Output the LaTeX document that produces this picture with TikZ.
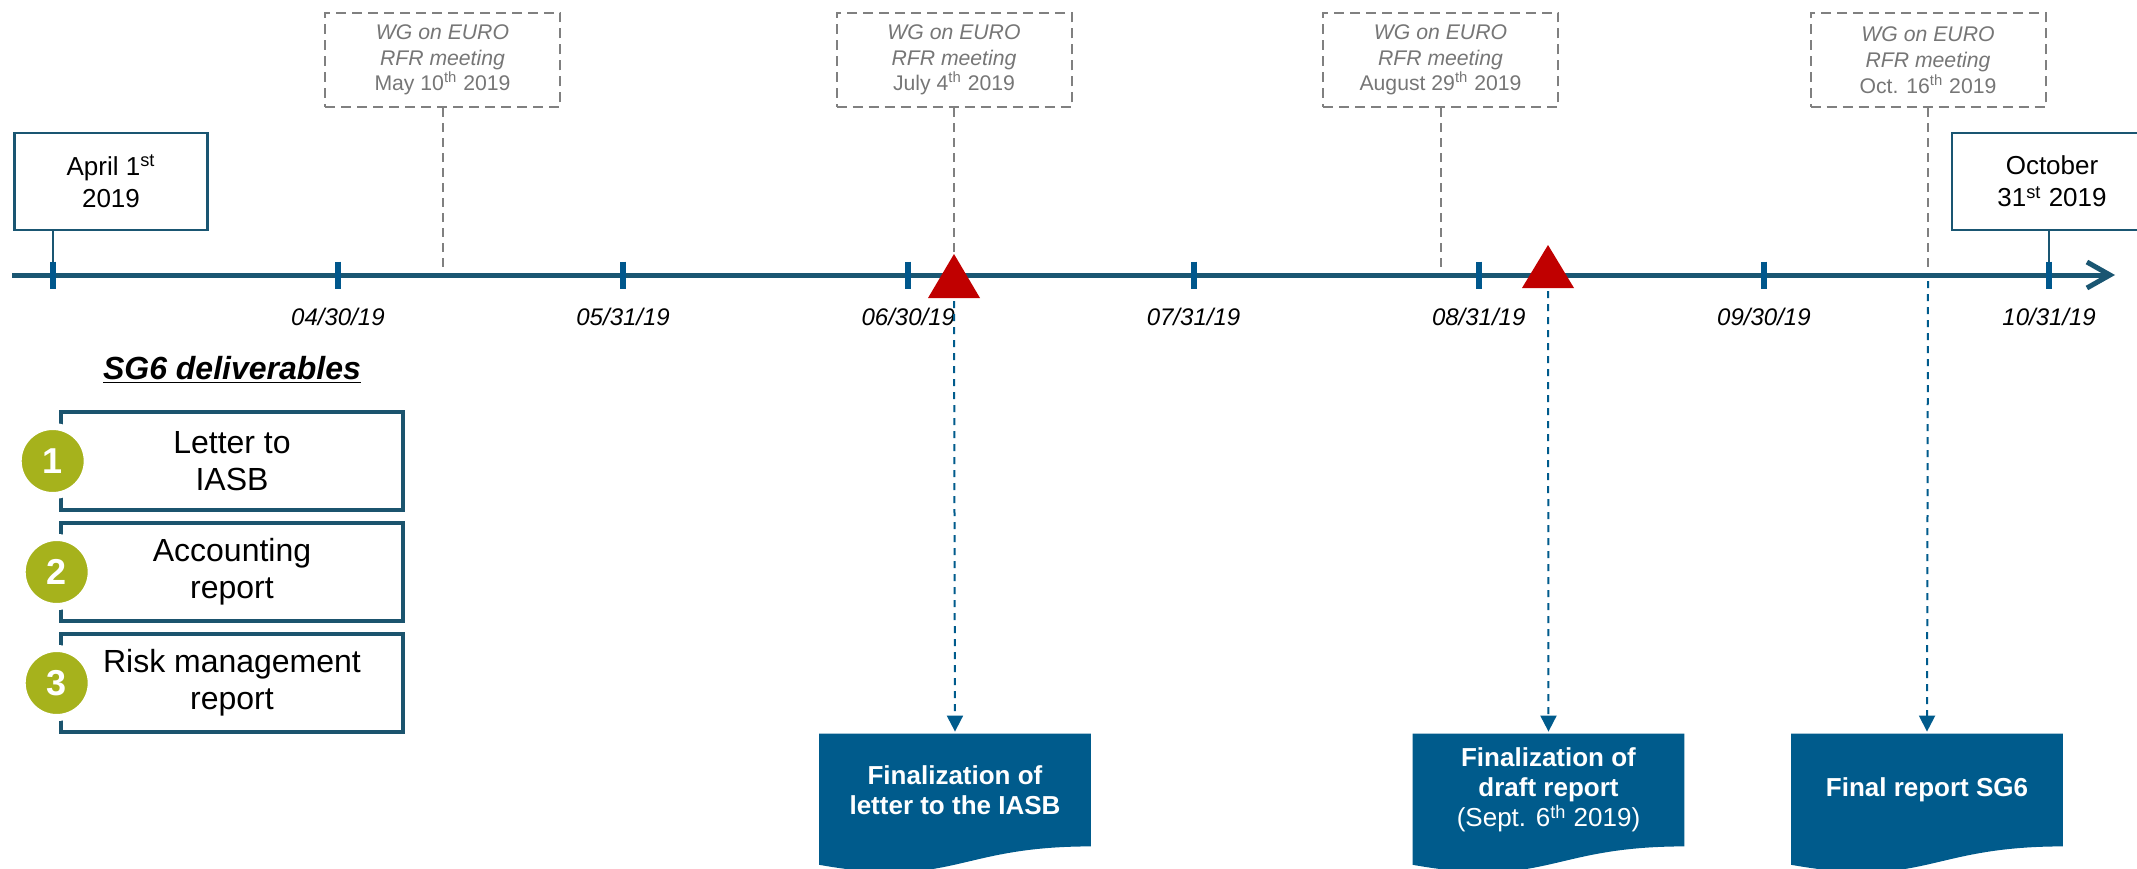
\documentclass[tikz,border=0pt]{standalone}
\usepackage{fontspec}
\setmainfont{Liberation Sans}
\usetikzlibrary{arrows.meta,calc,backgrounds}
\definecolor{tlcol}{RGB}{26,86,114}
\definecolor{tickcol}{RGB}{0,87,140}
\definecolor{boxcol}{RGB}{27,84,110}
\definecolor{docblue}{RGB}{0,91,140}
\definecolor{numgreen}{RGB}{166,178,28}
\definecolor{tri}{RGB}{192,0,0}
\definecolor{dashgray}{RGB}{128,128,128}
\definecolor{wgtext}{RGB}{118,118,118}
\newcommand\docpath[1]{\fill[docblue] (#1.north west) -- (#1.north east) -- (#1.south east) .. controls (#1.south) and ($(#1.south)+(0,42.5)$) .. ($(#1.south west)+(0,18.4)$) -- cycle;}
\tikzset{
  wgbox/.style={draw=dashgray, line width=1pt, dash pattern=on 5pt off 3pt, minimum width=117.5pt, minimum height=47.3pt, inner sep=0pt, align=center, text=wgtext, font=\fontsize{10.6}{12.85}\selectfont},
  grayline/.style={draw=dashgray, line width=1pt, dash pattern=on 4.5pt off 3pt},
  timeline/.style={draw=tlcol, line width=2.5pt, -{Straight Barb[length=11.5pt,width=13pt]}},
  tickmark/.style={draw=tickcol, line width=3pt},
  datelab/.style={inner sep=0pt, font=\itshape\fontsize{12}{14}\selectfont},
  datebox/.style={draw=tlcol, line width=1.2pt, fill=white, minimum width=96.5pt, minimum height=48.5pt, inner sep=0pt, align=center, font=\fontsize{13}{16}\selectfont},
  conn/.style={draw=tlcol, line width=1pt},
  bluedash/.style={draw=docblue, line width=1pt, dash pattern=on 3.5pt off 3pt, -{Triangle[length=8pt,width=8pt]}, shorten >=1pt},
  docnode/.style={minimum width=135.5pt, minimum height=56pt, inner sep=0pt, align=center, text=white, font=\fontsize{13}{15}\selectfont},
  delbox/.style={draw=boxcol, line width=2pt, minimum width=170.8pt, minimum height=49.2pt, inner sep=0pt, align=center, font=\fontsize{16}{18.3}\selectfont},
  numcirc/.style={circle, fill=numgreen, draw=white, line width=3.5pt, minimum size=34.5pt, inner sep=0pt, text=white, font=\bfseries\fontsize{18}{18}\selectfont}
}
\begin{document}
\begin{tikzpicture}[x=0.5pt,y=-0.5pt]
\useasboundingbox (0,0) rectangle (2137,868);
\foreach \k in {0,...,7}{\coordinate (d\k) at ({52.7+285.2*\k},275);}
% WG meeting boxes
\node[wgbox] (wg1) at (442.5,60) {\textit{WG on EURO}\\\textit{RFR meeting}\\May 10\textsuperscript{th} 2019};
\node[wgbox] (wg2) at (954,60) {\textit{WG on EURO}\\\textit{RFR meeting}\\July 4\textsuperscript{th} 2019};
\node[wgbox] (wg3) at (1440.5,60) {\textit{WG on EURO}\\\textit{RFR meeting}\\August 29\textsuperscript{th} 2019};
\node[wgbox] (wg4) at (1928,60) {\textit{WG on EURO}\\\textit{RFR meeting}\\Oct. 16\textsuperscript{th} 2019};
\coordinate (g1) at (442.5,267);
\coordinate (g3) at (1440.5,267);
\coordinate (g4) at (1928,272);
\coordinate (t1) at (954,254);
\coordinate (t2) at (1548,245);
\draw[grayline] (wg1.south) -- (g1);
\draw[grayline] (wg2.south) -- (t1);
\draw[grayline] (wg3.south) -- (g3);
\draw[grayline] (wg4.south) -- (g4);
% date boxes
\node[datebox] (apr) at (111,181.5) {April 1\textsuperscript{st}\\2019};
\node[datebox, minimum width=100pt] (oct) at (2052,181.5) {October\\31\textsuperscript{st} 2019};
\draw[conn] (apr.south -| d0) -- (d0);
\draw[conn] (oct.south -| d7) -- (d7);
% timeline
\coordinate (tls) at (12,275);
\coordinate (tle) at (2115,275);
\draw[timeline] (tls) -- (tle);
\foreach \k in {0,...,7}{\draw[tickmark] ($(d\k)+(0,-13.5)$) -- ($(d\k)+(0,13.5)$);}
\node[datelab] (l1) at ($(d1)+(0,41.5)$) {04/30/19};
\node[datelab] (l2) at ($(d2)+(0,41.5)$) {05/31/19};
\node[datelab] (l3) at ($(d3)+(0,41.5)$) {06/30/19};
\node[datelab] (l4) at ($(d4)+(0,41.5)$) {07/31/19};
\node[datelab] (l5) at ($(d5)+(0,41.5)$) {08/31/19};
\node[datelab] (l6) at ($(d6)+(0,41.5)$) {09/30/19};
\node[datelab] (l7) at ($(d7)+(0,41.5)$) {10/31/19};
% triangles
\fill[tri] (t1) -- ++(26,44) -- ++(-52,0) -- cycle;
\fill[tri] (t2) -- ++(26,43) -- ++(-52,0) -- cycle;
\coordinate (t1b) at (954,301);
\coordinate (t2b) at (1548,291);
\coordinate (a3) at (1928,281);
% deliverable documents
\node[docnode] (f1) at (955,790) {\textbf{Finalization of}\\\textbf{letter to the IASB}};
\node[docnode] (f2) at (1548.5,790) {\textbf{Finalization of}\\\textbf{draft report}\\(Sept. 6\textsuperscript{th} 2019)};
\node[docnode] (f3) at (1927,790) {\textbf{Final report SG6}};
\begin{scope}[on background layer]
\docpath{f1}
\docpath{f2}
\docpath{f3}
\end{scope}
\draw[bluedash] (t1b) -- (f1.north);
\draw[bluedash] (t2b) -- (f2.north);
\draw[bluedash] (a3) -- (f3.north);
% SG6 deliverables
\node[inner sep=0pt, font=\bfseries\itshape\fontsize{16}{18}\selectfont] (sg6) at (232,370) {\underline{SG6 deliverables}};
\node[delbox] (b1) at (232,461) {Letter to\\IASB};
\node[delbox] (b2) at (232,572) {Accounting\\report};
\node[delbox] (b3) at (232,683) {Risk management\\report};
\node[numcirc] (n1) at (52.7,461) {1};
\node[numcirc] (n2) at (56.7,572) {2};
\node[numcirc] (n3) at (56.7,683) {3};
\end{tikzpicture}
\end{document}
